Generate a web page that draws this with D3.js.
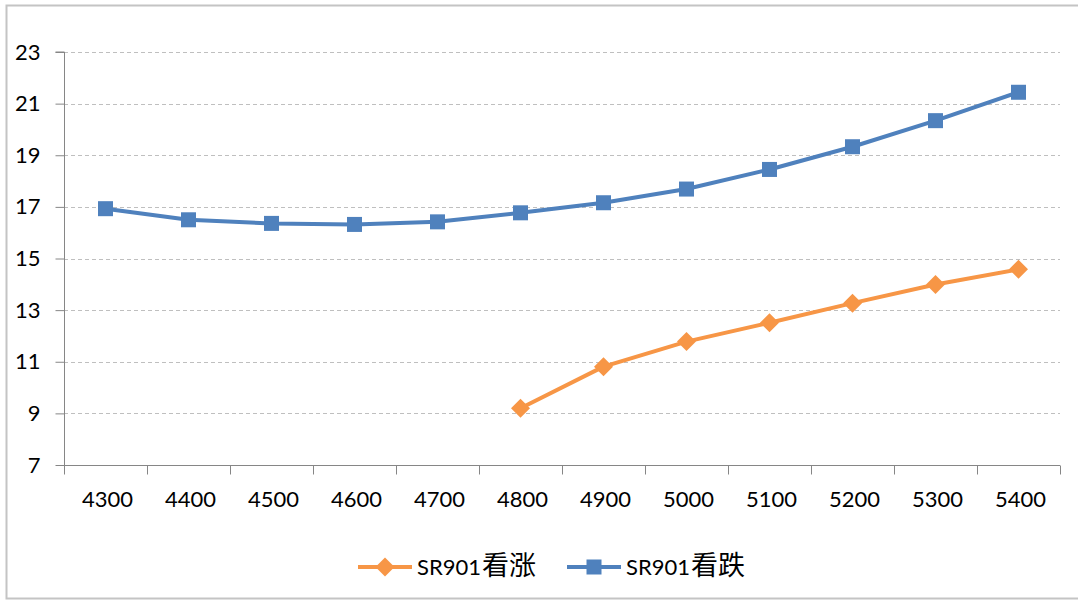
<!DOCTYPE html>
<html><head><meta charset="utf-8">
<script src="https://cdn.jsdelivr.net/npm/d3@7"></script>
<style>body{margin:0;background:#fff;}svg{display:block;}</style>
</head><body>
<svg id="c" width="1078" height="601"></svg>
<script>
const categories = ["4300","4400","4500","4600","4700","4800","4900","5000","5100","5200","5300","5400"];
const seriesNames = ["SR901看涨","SR901看跌"];
const callValues = [null,null,null,null,null,9.2,10.81,11.78,12.51,13.27,13.99,14.58];
const putValues = [16.93,16.5,16.36,16.32,16.42,16.77,17.16,17.69,18.45,19.33,20.34,21.44];
const yTicks = [7,9,11,13,15,17,19,21,23];

const svg = d3.select("#c");
const font = "Lato, 'Open Sans', sans-serif";
const M = {left:64, right:1060, top:52, bottom:465};
const colors = ["#F79646","#4F81BD"];

svg.append("rect").attr("x",6.5).attr("y",5.5).attr("width",1078).attr("height",593)
  .attr("fill","#fff").attr("stroke","#C4C4C4").attr("stroke-width",2);

const x = d3.scaleBand().domain(categories).range([M.left,M.right]);
const y = d3.scaleLinear().domain([7,23]).range([M.bottom,M.top]);

// grid
svg.append("g").selectAll("line").data(yTicks.filter(t=>t!==7)).join("line")
  .attr("x1",M.left).attr("x2",M.right)
  .attr("y1",d=>Math.round(y(d))+0.5).attr("y2",d=>Math.round(y(d))+0.5)
  .attr("stroke","#BFBFBF").attr("stroke-width",1).attr("stroke-dasharray","4,3");

// y axis
const ya = svg.append("g").attr("transform",`translate(${M.left+0.5},0)`)
  .call(d3.axisLeft(y).tickValues(yTicks).tickSize(9).tickPadding(15).tickFormat(d3.format("d")));
ya.select(".domain").attr("stroke","#868686").attr("d",`M-9,${y(23)}H0V${y(7)}`);
ya.selectAll(".tick line").attr("stroke","#868686");
ya.selectAll(".tick text").attr("font-family",font).attr("font-size",22).attr("fill","#000");

// x axis
const xa = svg.append("g").attr("transform",`translate(0,${M.bottom+0.5})`)
  .call(d3.axisBottom(x).tickSize(0).tickPadding(26));
xa.select(".domain").attr("stroke","#868686").attr("d",`M${M.left},0H${M.right}`);
xa.selectAll(".tick text").attr("font-family",font).attr("font-size",22).attr("fill","#000").attr("dx",2);
const bounds = categories.map(c=>x(c)).concat([M.right]);
xa.append("g").selectAll("line").data(bounds).join("line")
  .attr("x1",d=>Math.round(d)+0.5).attr("x2",d=>Math.round(d)+0.5).attr("y1",0).attr("y2",9)
  .attr("stroke","#868686");

const cx = c => x(c)+x.bandwidth()/2;
const line = d3.line().defined(d=>d.v!=null).x(d=>cx(d.c)).y(d=>y(d.v));

const sq = 15, dm = 9.5;
function drawSeries(vals, color, marker){
  const data = categories.map((c,i)=>({c, v:vals[i]}));
  svg.append("path").datum(data).attr("d",line).attr("fill","none")
    .attr("stroke",color).attr("stroke-width",4).attr("stroke-linejoin","round");
  const pts = data.filter(d=>d.v!=null);
  if(marker==="square"){
    svg.append("g").selectAll("rect").data(pts).join("rect")
      .attr("x",d=>cx(d.c)-sq/2).attr("y",d=>y(d.v)-sq/2).attr("width",sq).attr("height",sq)
      .attr("fill",color);
  } else {
    svg.append("g").selectAll("path").data(pts).join("path")
      .attr("transform",d=>`translate(${cx(d.c)},${y(d.v)})`)
      .attr("d",`M0,${-dm}L${dm},0L0,${dm}L${-dm},0Z`).attr("fill",color);
  }
}
drawSeries(putValues, colors[1], "square");
drawSeries(callValues, colors[0], "diamond");

// legend
const leg = [{n:seriesNames[0],c:colors[0],m:"diamond",x:358},{n:seriesNames[1],c:colors[1],m:"square",x:567}];
const ly = 567;
leg.forEach(l=>{
  const g = svg.append("g");
  g.append("line").attr("x1",l.x).attr("x2",l.x+54).attr("y1",ly).attr("y2",ly)
    .attr("stroke",l.c).attr("stroke-width",4);
  if(l.m==="square") g.append("rect").attr("x",l.x+27-sq/2).attr("y",ly-sq/2).attr("width",sq).attr("height",sq).attr("fill",l.c);
  else g.append("path").attr("transform",`translate(${l.x+27},${ly})`).attr("d",`M0,${-dm}L${dm},0L0,${dm}L${-dm},0Z`).attr("fill",l.c);
  const t = g.append("text").attr("x",l.x+59).attr("y",ly).attr("dy","0.36em")
    .attr("font-family",font).attr("font-size",22).attr("fill","#000");
  t.append("tspan").text(l.n.slice(0,5));
  t.append("tspan").attr("font-family","'Noto Sans CJK SC', sans-serif").attr("font-size",27)
    .attr("dx",1).text(l.n.slice(5));
});
</script>
</body></html>
